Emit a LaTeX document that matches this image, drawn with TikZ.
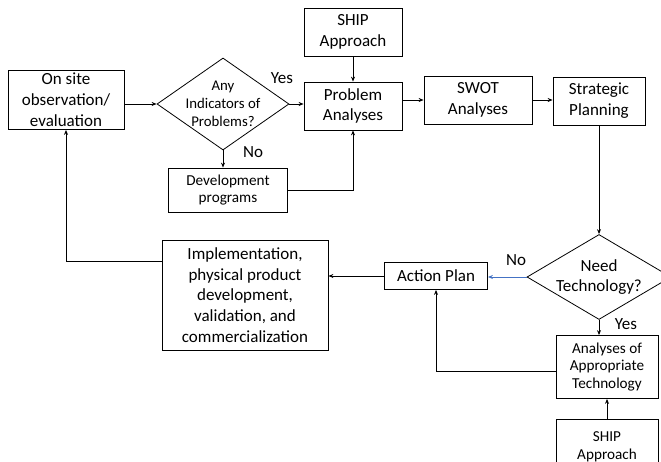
\documentclass[tikz,border=0pt]{standalone}
\usepackage{fontspec}
\setmainfont{Carlito}
\usetikzlibrary{positioning,calc,shapes.geometric,arrows.meta}
\definecolor{nocolor}{RGB}{68,114,196}

\begin{document}
\begin{tikzpicture}[
	x=1pt, y=-1pt,
	box/.style={ % plain process box
		draw, line width=0.8pt,
		inner sep=0pt, align=center,
		font=\fontsize{17}{20.8}\selectfont
	},
	smallbox/.style={ % box with smaller text
		box,
		font=\fontsize{15.2}{17.8}\selectfont
	},
	decision/.style={ % diamond question
		draw, diamond, line width=0.8pt,
		inner sep=0pt
	},
	flow/.style={ % connector
		->, >={Stealth[length=5pt,width=4pt]},
		line width=0.8pt
	},
	tag/.style={font=\fontsize{17}{20}\selectfont}
	]
	
	\clip (0,0) rectangle (661,462);
	
	% ================= TOP ROW =================
	\node[box, minimum width=116, minimum height=59] (obs) at (66,100) {On site\\observation/\\evaluation};
	\node[decision, minimum width=132, minimum height=92,
		label={[align=center, font=\fontsize{14.8}{18}\selectfont]center:Any\\Indicators of\\Problems?}] (indic) at (223,104) {};
	\node[smallbox, minimum width=119, minimum height=44] (devprog) at (228,190) {Development\\programs};
	\node[box, minimum width=98, minimum height=48] (ship1) at (353,32) {SHIP\\Approach};
	\node[box, minimum width=98, minimum height=48] (probl) at (353,106) {Problem\\Analyses};
	\node[box, minimum width=108, minimum height=48] (swot) at (478,100) {SWOT\\Analyses};
	\node[box, minimum width=92, minimum height=48] (strat) at (599,101) {Strategic\\Planning};
	
	% ================= BOTTOM ROW =================
	\node[decision, minimum width=144, minimum height=85,
		label={[align=center, font=\fontsize{17}{20.8}\selectfont]center:Need\\Technology?}] (needtech) at (599,277) {};
	\node[box, minimum width=103, minimum height=27] (action) at (436,276) {Action Plan};
	\node[box, minimum width=166, minimum height=110] (impl) at (245,295) {Implementation,\\physical product\\development,\\validation, and\\commercialization};
	\node[smallbox, minimum width=102, minimum height=63] (apptech) at (607,367) {Analyses of\\Appropriate\\Technology};
	\node[smallbox, minimum width=102, minimum height=54, anchor=north] (ship2) at (607,419) {SHIP\\Approach};
	
	% Yes / No labels
	\node[tag] (yes1) at (282,78) {Yes};
	\node[tag] (no1) at (253,152) {No};
	\node[tag] (no2) at (516,260) {No};
	\node[tag] (yes2) at (626,324) {Yes};
	
	% ================= CONNECTORS =================
	\draw[flow] (obs.east |- indic) -- (indic.west);
	\draw[flow] (indic.east) -- (probl.west |- indic.east);
	\draw[flow] (indic.south) -- (indic.south |- devprog.north);
	\draw[flow] (ship1.south) -- (probl.north);
	\draw[flow] (devprog.east) -| (probl.south);
	\draw[flow] (probl.east |- swot) -- (swot.west);
	\draw[flow] (swot.east) -- (strat.west |- swot.east);
	\draw[flow] (strat.south) -- (needtech.north);
	\draw[flow, nocolor] (needtech.west) -- (action.east |- needtech.west);
	\draw[flow] (action.west) -- (impl.east |- action.west);
	\draw[flow] (needtech.south) -- (needtech.south |- apptech.north);
	\draw[flow] ($(apptech.west)+(0,4)$) -| (action.south);
	\draw[flow] (ship2.north) -- (apptech.south);
	\draw[flow] ($(impl.north west)!0.2!(impl.south west)$) -| (obs.south);
	
\end{tikzpicture}
\end{document}
